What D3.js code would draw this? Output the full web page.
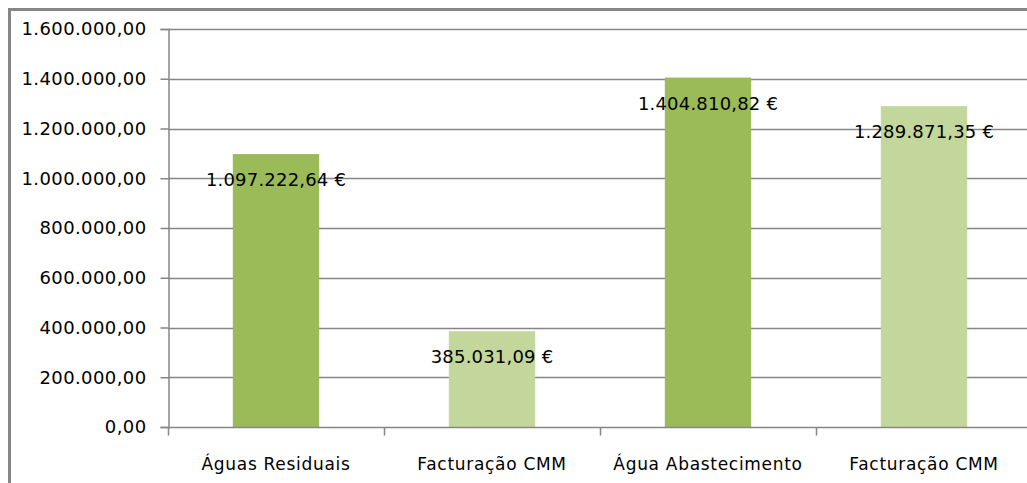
<!DOCTYPE html>
<html><head><meta charset="utf-8">
<script src="https://cdn.jsdelivr.net/npm/d3@7"></script>
<style>body{margin:0;background:#fff}svg{display:block}text{font-family:"DejaVu Sans",sans-serif;fill:#000}</style>
</head><body>
<svg id="c" width="1027" height="483"></svg>
<script>
const categories = ["Águas Residuais", "Facturação CMM", "Água Abastecimento", "Facturação CMM"];
const values = [1097222.64, 385031.09, 1404810.82, 1289871.35];
const barColors = ["#9BBB59", "#C3D69B", "#9BBB59", "#C3D69B"];
const yTicks = [0, 200000, 400000, 600000, 800000, 1000000, 1200000, 1400000, 1600000];

const svg = d3.select("#c");
const loc = d3.formatLocale({decimal: ",", thousands: ".", grouping: [3], currency: ["", " €"]});
const fmt = loc.format(",.2f");

const x = d3.scaleBand().domain(d3.range(categories.length)).range([168, 1032]).paddingInner(0.6).paddingOuter(0.3);
const y = d3.scaleLinear().domain([0, 1600000]).range([427, 29]);

// outer border
svg.append("path").attr("d", "M9.5,490 V9.5 H1040").attr("fill", "none").attr("stroke", "#868686").attr("stroke-width", 3);

// gridlines
svg.append("g").selectAll("line").data(yTicks.filter(d => d > 0)).join("line")
  .attr("x1", 168).attr("x2", 1032).attr("y1", d => Math.round(y(d)) + 0.5).attr("y2", d => Math.round(y(d)) + 0.5)
  .attr("stroke", "#868686").attr("stroke-width", 1.5);

// bars
svg.append("g").selectAll("rect").data(values).join("rect")
  .attr("x", (d, i) => x(i)).attr("width", x.bandwidth())
  .attr("y", d => y(d)).attr("height", d => y(0) - y(d))
  .attr("fill", (d, i) => barColors[i]);

// y axis
const yAxis = d3.axisLeft(y).tickValues(yTicks).tickSize(8).tickPadding(14).tickFormat(fmt);
const gy = svg.append("g").attr("transform", "translate(168.5,0)").call(yAxis);
gy.select(".domain").attr("stroke", "#868686").attr("stroke-width", 1.5);
gy.selectAll(".tick line").attr("stroke", "#868686").attr("stroke-width", 1.5);
gy.selectAll(".tick text").attr("font-size", 18).attr("letter-spacing", 0.4).attr("font-family", "DejaVu Sans").attr("fill", "#111");

// x axis
const xb = d3.scaleLinear().domain([0, categories.length]).range([168, 1032]);
const gx = svg.append("g").attr("transform", "translate(0,427.5)");
gx.append("line").attr("x1", 168).attr("x2", 1032).attr("stroke", "#868686").attr("stroke-width", 1.5);
gx.selectAll("line.t").data(d3.range(categories.length + 1)).join("line").attr("class", "t")
  .attr("x1", d => Math.round(xb(d)) + 0.5).attr("x2", d => Math.round(xb(d)) + 0.5).attr("y1", 0).attr("y2", 8)
  .attr("stroke", "#868686").attr("stroke-width", 1.5);
gx.selectAll("text").data(categories).join("text")
  .attr("x", (d, i) => x(i) + x.bandwidth() / 2).attr("y", 42)
  .attr("text-anchor", "middle").attr("font-size", 17).attr("letter-spacing", 0.7).attr("fill", "#111").text(d => d);

// data labels
const eur = loc.format("$,.2f");
svg.append("g").selectAll("text").data(values).join("text")
  .attr("x", (d, i) => x(i) + x.bandwidth() / 2).attr("y", d => y(d) + 32)
  .attr("text-anchor", "middle").attr("font-size", 18).attr("letter-spacing", 0.2).attr("fill", "#111").text(d => eur(d));
</script>
</body></html>
